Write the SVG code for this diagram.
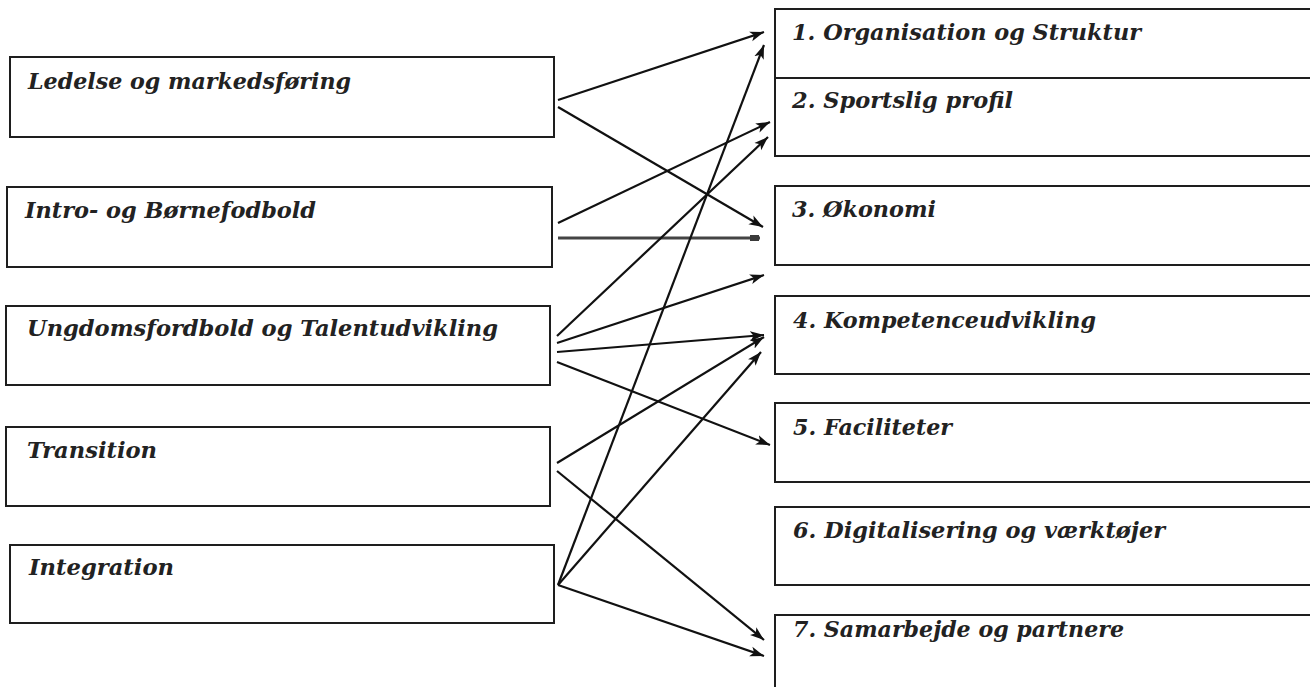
<svg xmlns="http://www.w3.org/2000/svg" width="1310" height="687" viewBox="0 0 1310 687">
  <style>
    .box { fill: #ffffff; stroke: #1e1e1e; stroke-width: 2; }
    .lbl { font-family: "DejaVu Serif", "Liberation Serif", serif; font-weight: bold; font-style: italic; font-size: 22px; fill: #222222; }
    .conn { stroke: #111111; stroke-width: 2.2; fill: none; marker-end: url(#arrow); }
  </style>
  <defs>
    <marker id="arrow" markerUnits="userSpaceOnUse" markerWidth="15" markerHeight="11" refX="14" refY="5.5" orient="auto">
      <path d="M0,0.5 L14,5.5 L0,10.5 L3.5,5.5 Z" fill="#111111"/>
    </marker>
    <marker id="stub" markerUnits="userSpaceOnUse" markerWidth="10" markerHeight="6" refX="10" refY="3" orient="auto">
      <rect x="0" y="0" width="9" height="6" fill="#3a3a3a"/>
    </marker>
  </defs>
  <rect width="1310" height="687" fill="#ffffff"/>

  <!-- source areas (left column) -->
  <g id="ledelse">
    <rect class="box" x="10" y="57" width="544" height="80"/>
    <text class="lbl" x="28" y="89" textLength="323" lengthAdjust="spacingAndGlyphs">Ledelse og markedsføring</text>
  </g>
  <g id="intro">
    <rect class="box" x="7" y="187" width="545" height="80"/>
    <text class="lbl" x="25" y="218" textLength="291" lengthAdjust="spacingAndGlyphs">Intro- og Børnefodbold</text>
  </g>
  <g id="ungdom">
    <rect class="box" x="6" y="306" width="544" height="79"/>
    <text class="lbl" x="27" y="336" textLength="471" lengthAdjust="spacingAndGlyphs">Ungdomsfordbold og Talentudvikling</text>
  </g>
  <g id="transition">
    <rect class="box" x="6" y="427" width="544" height="79"/>
    <text class="lbl" x="27" y="458" textLength="130" lengthAdjust="spacingAndGlyphs">Transition</text>
  </g>
  <g id="integration">
    <rect class="box" x="10" y="545" width="544" height="78"/>
    <text class="lbl" x="29" y="575" textLength="145" lengthAdjust="spacingAndGlyphs">Integration</text>
  </g>

  <!-- focus areas (right column) -->
  <g id="organisation">
    <rect class="box" x="775" y="9" width="560" height="69"/>
    <text class="lbl" x="792" y="40" textLength="349" lengthAdjust="spacingAndGlyphs">1. Organisation og Struktur</text>
  </g>
  <g id="sportslig">
    <rect class="box" x="775" y="78" width="560" height="78"/>
    <text class="lbl" x="792" y="108" textLength="221" lengthAdjust="spacingAndGlyphs">2. Sportslig profil</text>
  </g>
  <g id="oekonomi">
    <rect class="box" x="775" y="186" width="560" height="79"/>
    <text class="lbl" x="792" y="217" textLength="144" lengthAdjust="spacingAndGlyphs">3. Økonomi</text>
  </g>
  <g id="kompetence">
    <rect class="box" x="775" y="296" width="560" height="78"/>
    <text class="lbl" x="793" y="328" textLength="303" lengthAdjust="spacingAndGlyphs">4. Kompetenceudvikling</text>
  </g>
  <g id="faciliteter">
    <rect class="box" x="775" y="403" width="560" height="79"/>
    <text class="lbl" x="793" y="435" textLength="159" lengthAdjust="spacingAndGlyphs">5. Faciliteter</text>
  </g>
  <g id="digitalisering">
    <rect class="box" x="775" y="507" width="560" height="78"/>
    <text class="lbl" x="793" y="538" textLength="372" lengthAdjust="spacingAndGlyphs">6. Digitalisering og værktøjer</text>
  </g>
  <g id="samarbejde">
    <rect class="box" x="775" y="615" width="560" height="90"/>
    <text class="lbl" x="793" y="637" textLength="331" lengthAdjust="spacingAndGlyphs">7. Samarbejde og partnere</text>
  </g>

  <!-- connectors -->
  <g id="connectors">
    <line class="conn" x1="558" y1="100" x2="764" y2="32"/>
    <line class="conn" x1="558" y1="107" x2="763" y2="227"/>
    <line class="conn" x1="558" y1="223" x2="770" y2="122"/>
    <line x1="558" y1="238" x2="760" y2="238" stroke="#444444" stroke-width="3" marker-end="url(#stub)"/>
    <line class="conn" x1="557" y1="336" x2="768" y2="137"/>
    <line class="conn" x1="557" y1="343" x2="764" y2="275"/>
    <line class="conn" x1="557" y1="352" x2="764" y2="335"/>
    <line class="conn" x1="557" y1="362" x2="770" y2="445"/>
    <line class="conn" x1="557" y1="463" x2="764" y2="337"/>
    <line class="conn" x1="557" y1="471" x2="764" y2="640"/>
    <line class="conn" x1="558" y1="585" x2="764" y2="45"/>
    <line class="conn" x1="558" y1="585" x2="761" y2="352"/>
    <line class="conn" x1="558" y1="585" x2="764" y2="656"/>
  </g>
</svg>
